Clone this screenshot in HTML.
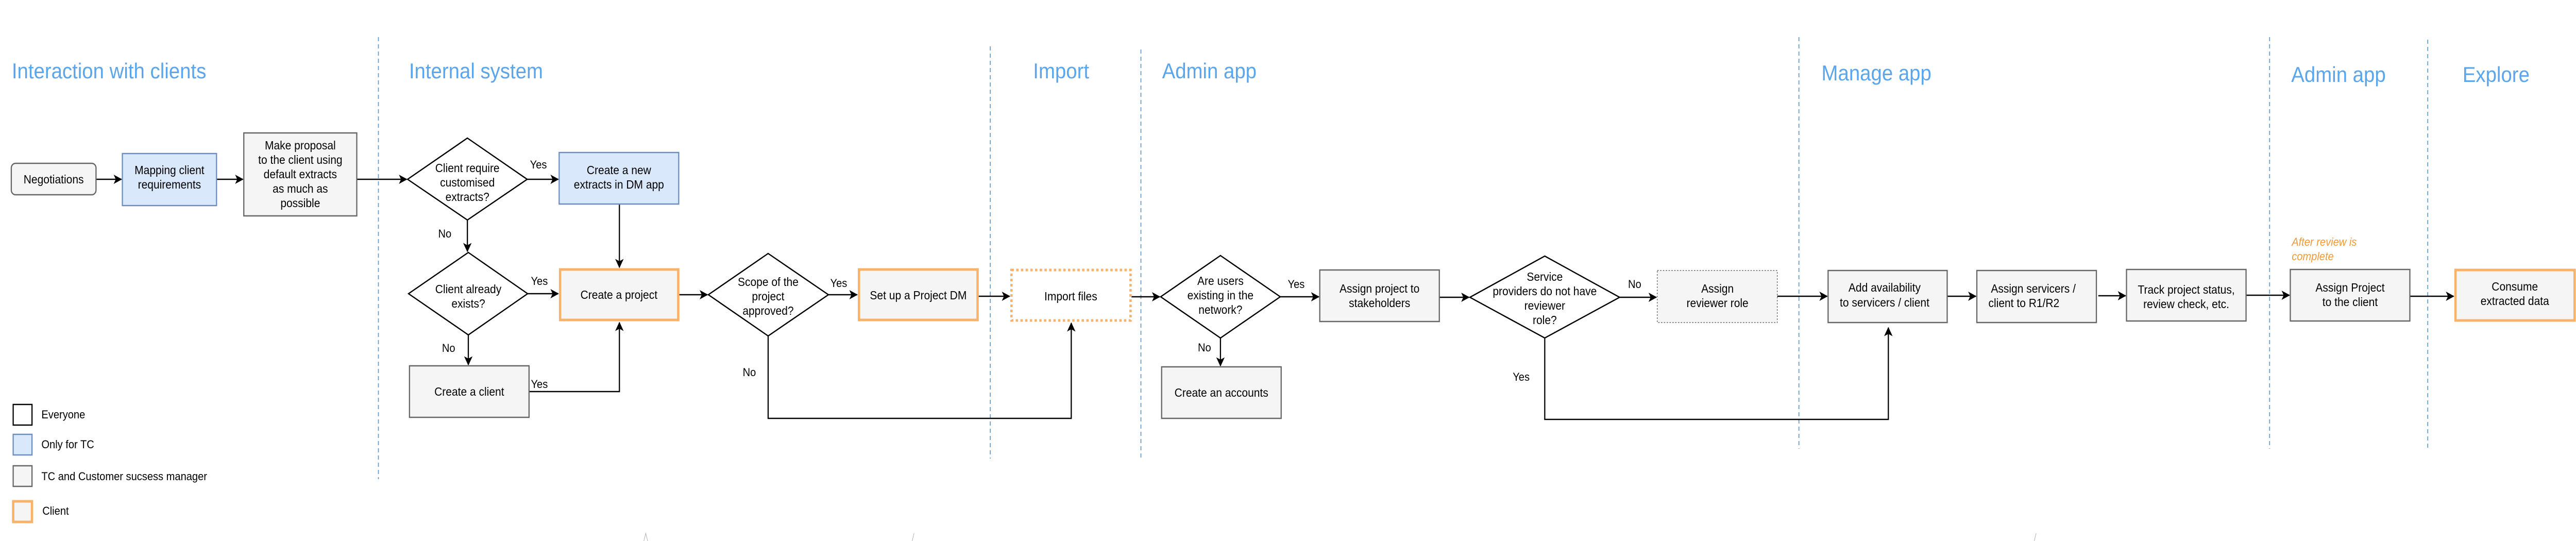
<!DOCTYPE html>
<html><head><meta charset="utf-8"><style>
html,body{margin:0;padding:0;background:#fff;overflow:hidden;width:100%;height:100%;}
svg{display:block;width:100vw;height:100vh;}
text{font-family:"Liberation Sans",sans-serif;}
</style></head><body>
<svg viewBox="0 0 5473 1050" preserveAspectRatio="none" xmlns="http://www.w3.org/2000/svg">
<defs>
<marker id="b" viewBox="0 0 12 12" refX="11" refY="6" markerWidth="18" markerHeight="18" markerUnits="userSpaceOnUse" orient="auto">
<path d="M0,0 L12,6 L0,12 L3,6 z" fill="#000"/>
</marker>
</defs>

<g stroke="#6a9fc9" stroke-width="2" stroke-dasharray="8,6">
<line x1="804" y1="72" x2="804" y2="930"/>
<line x1="2104" y1="90" x2="2104" y2="890"/>
<line x1="2424" y1="96" x2="2424" y2="893"/>
<line x1="3822" y1="72" x2="3822" y2="871"/>
<line x1="4822" y1="72" x2="4822" y2="871"/>
<line x1="5158" y1="77" x2="5158" y2="874"/>
</g>

<g fill="#5aa6ec" font-size="42">
<text x="25" y="152">Interaction with clients</text>
<text x="869" y="152">Internal system</text>
<text x="2195" y="152">Import</text>
<text x="2469" y="152">Admin app</text>
<text x="3870" y="156">Manage app</text>
<text x="4868" y="159">Admin app</text>
<text x="5232" y="159">Explore</text>
</g>

<g stroke="#000" stroke-width="2.5" fill="none">
<line x1="204" y1="348" x2="258" y2="348" marker-end="url(#b)"/>
<line x1="460" y1="348" x2="516" y2="348" marker-end="url(#b)"/>
<line x1="758" y1="348" x2="864" y2="348" marker-end="url(#b)"/>
<line x1="1120" y1="348" x2="1186" y2="348" marker-end="url(#b)"/>
<line x1="993" y1="427" x2="993" y2="488" marker-end="url(#b)"/>
<line x1="1316" y1="396" x2="1316" y2="519" marker-end="url(#b)"/>
<line x1="1121" y1="570" x2="1186" y2="570" marker-end="url(#b)"/>
<line x1="995" y1="650" x2="995" y2="708" marker-end="url(#b)"/>
<polyline points="1124,760 1316,760 1316,626" marker-end="url(#b)"/>
<line x1="1443" y1="572" x2="1503" y2="572" marker-end="url(#b)"/>
<line x1="1760" y1="572" x2="1821" y2="572" marker-end="url(#b)"/>
<line x1="2079" y1="575" x2="2145" y2="575" marker-end="url(#b)"/>
<polyline points="1632,652 1632,812 2276,812 2276,627" marker-end="url(#b)"/>
<line x1="2404" y1="576" x2="2464" y2="576" marker-end="url(#b)"/>
<line x1="2593" y1="656" x2="2593" y2="710" marker-end="url(#b)"/>
<line x1="2720" y1="576" x2="2802" y2="576" marker-end="url(#b)"/>
<line x1="3058" y1="577" x2="3121" y2="577" marker-end="url(#b)"/>
<line x1="3441" y1="577" x2="3519" y2="577" marker-end="url(#b)"/>
<line x1="3776" y1="575" x2="3882" y2="575" marker-end="url(#b)"/>
<polyline points="3282,656 3282,814 4012,814 4012,636" marker-end="url(#b)"/>
<line x1="4137" y1="575" x2="4198" y2="575" marker-end="url(#b)"/>
<line x1="4458" y1="574" x2="4516" y2="574" marker-end="url(#b)"/>
<line x1="4772" y1="573" x2="4864" y2="573" marker-end="url(#b)"/>
<line x1="5120" y1="575" x2="5213" y2="575" marker-end="url(#b)"/>
</g>

<g stroke-width="2.5">
<rect x="24" y="317" width="180" height="61" rx="9" fill="#f5f5f5" stroke="#666"/>
<rect x="260" y="298" width="200" height="101" fill="#dae8fc" stroke="#6c8ebf"/>
<rect x="518" y="258" width="240" height="161" fill="#f5f5f5" stroke="#666"/>
<polygon points="993,268 1120,348 993,427 866,348" fill="#fff" stroke="#000"/>
<rect x="1188" y="296" width="254" height="100" fill="#dae8fc" stroke="#6c8ebf"/>
<rect x="1190" y="523" width="251" height="98" fill="#f5f5f5" stroke="#f8b26a" stroke-width="5"/>
<polygon points="995,490 1121,570 995,650 868,570" fill="#fff" stroke="#000"/>
<rect x="870" y="710" width="254" height="100" fill="#f5f5f5" stroke="#666"/>
<polygon points="1632,492 1760,572 1632,652 1505,572" fill="#fff" stroke="#000"/>
<rect x="1825" y="523" width="252" height="98" fill="#f5f5f5" stroke="#f8b26a" stroke-width="5"/>
<rect x="2149" y="524" width="253" height="98" fill="#fff" stroke="#f8b26a" stroke-width="5" stroke-dasharray="5,5"/>
<polygon points="2593,496 2720,576 2593,656 2466,576" fill="#fff" stroke="#000"/>
<rect x="2468" y="712" width="254" height="100" fill="#f5f5f5" stroke="#666"/>
<rect x="2804" y="524" width="254" height="100" fill="#f5f5f5" stroke="#666"/>
<polygon points="3282,497 3441,577 3282,656 3123,577" fill="#fff" stroke="#000"/>
<rect x="3521" y="525" width="255" height="101" fill="#f5f5f5" stroke="#666" stroke-width="1.5" stroke-dasharray="3,3"/>
<rect x="3884" y="525" width="253" height="101" fill="#f5f5f5" stroke="#666"/>
<rect x="4200" y="525" width="254" height="101" fill="#f5f5f5" stroke="#666"/>
<rect x="4518" y="523" width="254" height="100" fill="#f5f5f5" stroke="#666"/>
<rect x="4866" y="523" width="254" height="100" fill="#f5f5f5" stroke="#666"/>
<rect x="5217" y="524" width="253" height="98" fill="#f5f5f5" stroke="#f8b26a" stroke-width="5"/>
<rect x="28" y="785" width="40" height="40" fill="#fff" stroke="#000"/>
<rect x="28" y="843" width="40" height="40" fill="#dae8fc" stroke="#6c8ebf"/>
<rect x="28" y="904" width="40" height="40" fill="#f5f5f5" stroke="#666"/>
<rect x="28" y="973" width="40" height="40" fill="#f5f5f5" stroke="#f8b26a" stroke-width="5"/>
</g>

<g font-size="23" fill="#000" text-anchor="middle">
<text x="114" y="356">Negotiations</text>
<text x="360" y="338">Mapping client</text>
<text x="360" y="366">requirements</text>
<text x="638" y="290">Make proposal</text>
<text x="638" y="318">to the client using</text>
<text x="638" y="346">default extracts</text>
<text x="638" y="374">as much as</text>
<text x="638" y="402">possible</text>
<text x="993" y="334">Client require</text>
<text x="993" y="362">customised</text>
<text x="993" y="390">extracts?</text>
<text x="1315" y="338">Create a new</text>
<text x="1315" y="366">extracts in DM app</text>
<text x="1315" y="580">Create a project</text>
<text x="995" y="569">Client already</text>
<text x="995" y="597">exists?</text>
<text x="997" y="768">Create a client</text>
<text x="1632" y="555">Scope of the</text>
<text x="1632" y="583">project</text>
<text x="1632" y="611">approved?</text>
<text x="1951" y="581">Set up a Project DM</text>
<text x="2275" y="583">Import files</text>
<text x="2593" y="553">Are users</text>
<text x="2593" y="581">existing in the</text>
<text x="2593" y="609">network?</text>
<text x="2595" y="770">Create an accounts</text>
<text x="2931" y="568">Assign project to</text>
<text x="2931" y="596">stakeholders</text>
<text x="3282" y="545">Service</text>
<text x="3282" y="573">providers do not have</text>
<text x="3282" y="601">reviewer</text>
<text x="3282" y="629">role?</text>
<text x="3649" y="568">Assign</text>
<text x="3649" y="596">reviewer role</text>
<text x="4004" y="566">Add availability</text>
<text x="4004" y="595">to servicers / client</text>
<text x="4320" y="568">Assign servicers /</text>
<text x="4300" y="596">client to R1/R2</text>
<text x="4645" y="570">Track project status,</text>
<text x="4645" y="598">review check, etc.</text>
<text x="4993" y="566">Assign Project</text>
<text x="4993" y="594">to the client</text>
<text x="5343" y="564">Consume</text>
<text x="5343" y="592">extracted data</text>
</g>

<g font-size="22" fill="#000">
<text x="1126" y="327">Yes</text>
<text x="931" y="461">No</text>
<text x="1128" y="553">Yes</text>
<text x="939" y="683">No</text>
<text x="1128" y="753">Yes</text>
<text x="1578" y="730">No</text>
<text x="1764" y="557">Yes</text>
<text x="2736" y="559">Yes</text>
<text x="2545" y="682">No</text>
<text x="3459" y="559">No</text>
<text x="3214" y="739">Yes</text>
</g>

<g font-size="22" fill="#f39a34" font-style="italic">
<text x="4869" y="477">After review is</text>
<text x="4869" y="505">complete</text>
</g>

<g font-size="22" fill="#000">
<text x="88" y="812">Everyone</text>
<text x="88" y="870">Only for TC</text>
<text x="88" y="932">TC and Customer sucsess manager</text>
<text x="90" y="999">Client</text>
</g>

<g stroke="#aaa" stroke-width="1" fill="none">
<path d="M1368,1050 L1372,1035 L1376,1050"/>
<path d="M1938,1050 L1942,1035"/>
<path d="M4322,1050 L4326,1035"/>
</g>
</svg>
</body></html>
